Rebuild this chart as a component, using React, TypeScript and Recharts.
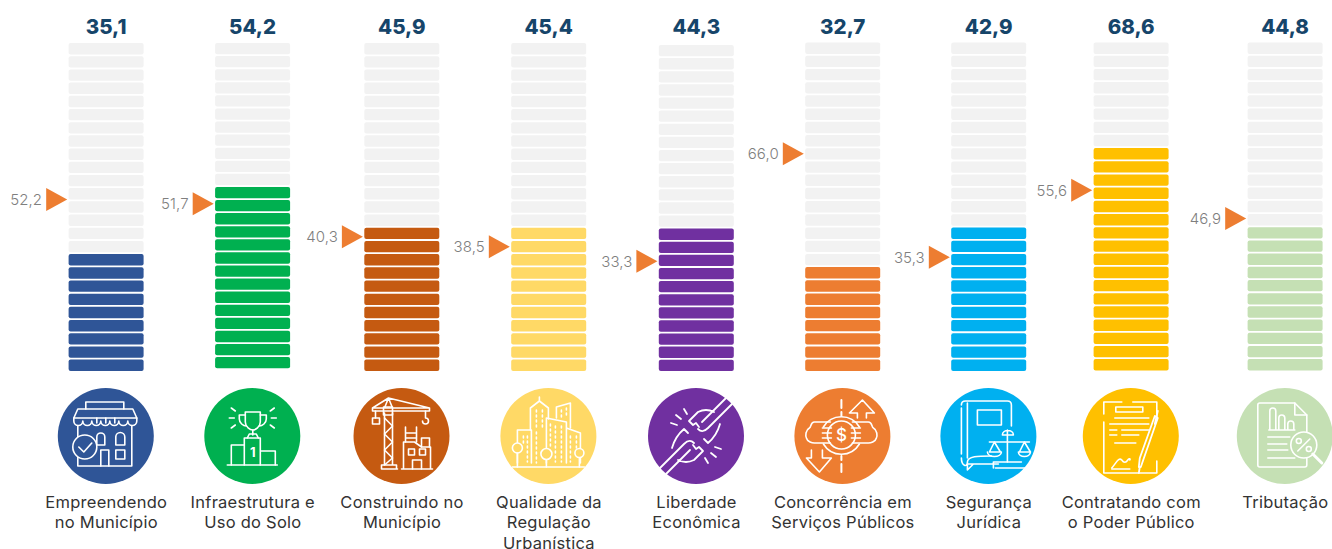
import React from 'react';
import { ComposedChart, Bar, Line, XAxis, YAxis, LabelList } from 'recharts';

const CATEGORIES = [
  ['Empreendendo', 'no Município'],
  ['Infraestrutura e', 'Uso do Solo'],
  ['Construindo no', 'Município'],
  ['Qualidade da', 'Regulação', 'Urbanística'],
  ['Liberdade', 'Econômica'],
  ['Concorrência em', 'Serviços Públicos'],
  ['Segurança', 'Jurídica'],
  ['Contratando com', 'o Poder Público'],
  ['Tributação'],
];
const SCORES = [35.1, 54.2, 45.9, 45.4, 44.3, 32.7, 42.9, 68.6, 44.8];
const REFERENCES = [52.2, 51.7, 40.3, 38.5, 33.3, 66.0, 35.3, 55.6, 46.9];
const FILLED_SEGMENTS = [9, 14, 11, 11, 11, 8, 11, 17, 11];
const COLORS = ['#2F5597', '#00B050', '#C55A11', '#FFD966', '#7030A0', '#ED7D31', '#00B0F0', '#FFC000', '#C5E0B4'];

const SEGMENT_COUNT = 25;
const SEGMENT_VALUE = 4;

// layout of the columns: the source picture is not evenly spaced
const COLUMN_X = [105.8, 252.3, 401.5, 548.4, 696, 842.4, 988.4, 1130.8, 1284.8];
const COLUMN_TOP = [43, 43, 43, 43, 45, 42.5, 42.5, 42.5, 42.5];
const COLUMN_BOTTOM = [372.8, 370.1, 372.8, 372.8, 372.8, 372.8, 372.8, 372.3, 372.3];
const MARKER_NUDGE = [-1, 1.7, -3, 1, -1.5, -1, 1, 1, 0.5];

const WIDTH = 1332;
const HEIGHT = 549;
const PLOT_TOP = 42.5;
const PLOT_BOTTOM = 372.8;
const GAP = 1.8;
const FONT = 'Inter, "Open Sans", sans-serif';

const segmentKeys = Array.from({ length: SEGMENT_COUNT }, (_, i) => `s${i}`);

const rows = SCORES.map((score, i) => {
  const row: Record<string, number | string> = {
    x: COLUMN_X[i],
    col: i,
    reference: REFERENCES[i],
    scoreText: score.toFixed(1).replace('.', ','),
  };
  segmentKeys.forEach(k => { row[k] = SEGMENT_VALUE; });
  return row;
});

function Segment(props: any, segment: number) {
  const col = props.payload.col;
  // squeeze each column into its own top and bottom
  const k = (COLUMN_BOTTOM[col] - COLUMN_TOP[col]) / (PLOT_BOTTOM - PLOT_TOP);
  const y = COLUMN_BOTTOM[col] - (PLOT_BOTTOM - props.y) * k;
  const h = props.height * k - GAP;
  const fill = segment < FILLED_SEGMENTS[col] ? COLORS[col] : '#F2F2F2';
  return <rect x={props.x} y={y} width={props.width} height={h} rx={2} fill={fill} />;
}

function Marker(props: any) {
  const { cx, cy, index } = props;
  const y = cy + MARKER_NUDGE[index];
  const tip = cx - 38.6;
  return (
    <g key={`marker-${index}`}>
      <polygon points={`${tip},${y} ${tip - 21},${y - 11.5} ${tip - 21},${y + 11.5}`} fill="#ED7D31" />
      <text
        x={tip - 25}
        y={y + 5.5}
        textAnchor="end"
        fontFamily={FONT}
        fontSize={15}
        fontWeight={300}
        letterSpacing={0.1}
        fill="#7F7F7F"
      >
        {REFERENCES[index].toFixed(1).replace('.', ',')}
      </text>
    </g>
  );
}

const line = { fill: 'none', stroke: '#fff', strokeWidth: 1.6, strokeLinecap: 'round', strokeLinejoin: 'round' } as const;

const CHAIN_HALF =
  'M30,-38L6,-14M36,-32L12,-8C8,-4 5,-4 2,-7M-7,-15L2,-24C8,-27 14,-26 18,-24M-7,-15L-3,-11L0,-13L3,-9' +
  'M8,3L12,7C18,2 22,-5 24,-12M-25,-13L-19,-11M-20,-21L-15,-17M-12,-27L-9,-22';

function Icon({ index, color }: { index: number; color: string }) {
  switch (index) {
    case 0:
      return (
        <g {...line}>
          <path d="M-20,-27V-34H18V-27" />
          <path d="M-28,-27H27L31,-18H-32Z" />
          <path d="M-32,-18v3a4.5,4.5 0 0 0 9,0a4.5,4.5 0 0 0 9,0a4.5,4.5 0 0 0 9,0a4.5,4.5 0 0 0 9,0a4.5,4.5 0 0 0 9,0a4.5,4.5 0 0 0 9,0a4.5,4.5 0 0 0 9,0v-3" />
          <path d="M-28,-10V30H26V-10" />
          <path d="M-9,-18V-13M0,-18V-13M9,-18V-13" />
          <path d="M-9,9V1a4,4 0 0 1 8,0V9ZM10,9V1a4.5,4.5 0 0 1 9,0V9Z" />
          <path d="M-5,30V14H3V30" />
          <rect x={10} y={14} width={9} height={9} />
          <circle cx={-21} cy={11} r={12} fill={color} />
          <path d="M-27,11L-22,16L-14,7" />
        </g>
      );
    case 1:
      return (
        <g {...line}>
          <path d="M-25,29H25" />
          <path d="M-8,29V2H8V29M-8,9H-21V29M8,15H23V29" />
          <path d="M-7,-24H8V-14C8,-9 3,-6 0.5,-6C-2,-6 -7,-9 -7,-14Z" />
          <path d="M-7,-21H-13V-17C-13,-13 -9,-10 -6,-10M8,-21H14V-17C14,-13 10,-10 7,-10" />
          <path d="M0.5,-6V-1M-5,2L-3,-2H4L6,2" />
          <path d="M-21,-28L-17,-25M22,-28L18,-25M-23,-18H-18M24,-18H19M-21,-8L-17,-11M22,-8L18,-11" />
          <text x={0.5} y={21} textAnchor="middle" fontFamily={FONT} fontSize={13} fontWeight={700} fill="#fff" stroke="none">1</text>
        </g>
      );
    case 2:
      return (
        <g {...line}>
          <path d="M-17,-23V29M-9,-23V29M-20,33V29H-5V33ZM-20,33H-4" />
          <path d="M-17,-18L-9,-10L-17,-2L-9,6L-17,14L-9,22L-17,29" />
          <path d="M-29,-28H28V-25H-29ZM-17,-28L-13,-38L28,-28M-9,-28L-13,-38L-29,-28" />
          <rect x={-18} y={-29} width={9} height={8} />
          <rect x={-29} y={-18} width={7} height={6} />
          <path d="M-26,-25V-18M24,-25V-18M24,-18a3,3 0 1 1 -3,3" />
          <path d="M0,33H31M2,33V6H13L20,11H29V33" />
          <path d="M11,33V24H20V33" />
          <rect x={7} y={13} width={6} height={6} />
          <rect x={18} y={13} width={6} height={6} />
          <path d="M4,6V-9M15,6V-9M4,-3H15M4,2H15M20,11V2H28V11" />
        </g>
      );
    case 3:
      return (
        <g {...line}>
          <path d="M-36,31H36" />
          <path d="M-18,-6V-28L-9,-35L0,-28V-17M-9,-39V-35" />
          <path d="M8,-18V-29L22,-33V-8" />
          <path d="M-2,27V-18L18,-14V27M18,-8L32,-3V27" />
          <path d="M-31,27V-6H-17V27" />
          <circle cx={-31} cy={12} r={5} fill={color} />
          <circle cx={-2} cy={18} r={5.5} fill={color} />
          <circle cx={31} cy={17} r={4.5} fill={color} />
          <path d="M-31,17V31M-2,24V31M31,22V31" />
          <g strokeDasharray="2 3">
            <path d="M-12,-26V-8M-6,-26V-8M2,-12V10M7,-10V26M13,-10V26M13,-26V-18M18,-28V-18M22,0V26M28,0V12M-25,0V8M-21,0V26M-12,-4V27" />
          </g>
        </g>
      );
    case 4:
      return (
        <g {...line} strokeWidth={1.8}>
          <path d={CHAIN_HALF} />
          <path d={CHAIN_HALF} transform="rotate(180)" />
        </g>
      );
    case 5:
      return (
        <g {...line}>
          <path d="M-1,-36V-28M-1,-24V-20M-1,28V36M-1,20V24" strokeWidth={2} />
          <circle cx={-1} cy={-1} r={14} />
          <path d="M-19,-9A21,21 0 0 1 17,-9M-19,8A21,21 0 0 0 17,8" />
          <path d="M15,-18V-23H7L20,-36L32,-23H24V-18" />
          <path d="M-31,14V22H-36L-23,36L-11,22H-20V14" />
          <path d="M-12,-14H-28C-32,-14 -31,-9 -33,-8C-37,-6 -37,0 -36,2C-35,6 -30,7 -28,7H-12" />
          <path d="M-20,-8H-11M-20,-3H-11M-20,2H-11" />
          <path d="M10,-14H26C30,-14 29,-9 31,-8C35,-6 35,0 34,2C33,6 28,7 26,7H10" />
          <path d="M18,-8H9M18,-3H9M18,2H9" />
          <text x={-1} y={5} textAnchor="middle" fontFamily={FONT} fontSize={17} fontWeight={500} fill="#fff" stroke="none">$</text>
        </g>
      );
    case 6:
      return (
        <g {...line}>
          <path d="M-27,-28V18M-27,-31C-27,-34 -25,-35 -23,-35H19C22,-35 23,-33 23,-31V-10" />
          <path d="M-21,-33V22" />
          <rect x={-11} y={-26} width={24} height={15} />
          <path d="M-27,22C-27,30 -21,32 -21,26C-21,20 -10,20 3,20M-21,26V34L-15,28H3M-21,28H10" />
          <path d="M19,-6V26M14,-1C14,-7 25,-7 25,-1ZM1,6H41" />
          <path d="M6,6L1,16H12ZM36,6L31,16H42Z" />
          <path d="M-1,16C-1,22 13,22 13,16M30,16C30,22 42,22 42,16" />
          <path d="M5,26H33M7,32H38M5,26V32" />
        </g>
      );
    case 7:
      return (
        <g {...line}>
          <path d="M-27,-22V-34H-9M2,-34H26V-18M-27,-14V37H26V25" />
          <rect x={-15} y={-29} width={27} height={5} />
          <path d="M-16,-18H18M-21,-12H18M-21,-6H-14M-9,-6H18M-21,-1H-14M-9,-1H8M-16,7H5" />
          <path d="M27,-18L10,31L8,31L9,22L24,-20ZM27,-25L24,-12M9,31L8,37" strokeWidth={1.8} />
          <path d="M-19,32C-14,26 -12,21 -9,24C-7,27 -5,27 -3,24C-2,22 0,23 -1,24" />
          <path d="M-19,33H-1" />
        </g>
      );
    default:
      return (
        <g {...line}>
          <path d="M10,-33H-25Q-27,-33 -27,-31V29Q-27,31 -25,31H20Q22,31 22,29V-21Z" />
          <path d="M10,-33V-21H22" />
          <path d="M-15,-6V-25a3,3 0 0 1 6,0V-6M-6,-6V-18a3,3 0 0 1 6,0V-6M3,-6V-12a3,3 0 0 1 6,0V-6M-16,-6H10" />
          <path d="M-17,1H5M-17,8H2M-17,14H3M-17,22H10" />
          <circle cx={19} cy={9} r={13} fill={color} />
          <path d="M28,18L37,27" strokeWidth={3} />
          <path d="M13,15L25,3" />
          <circle cx={14} cy={5} r={2.5} />
          <circle cx={24} cy={13} r={2.5} />
        </g>
      );
  }
}

function CategoryTick(props: any) {
  const { x, index } = props;
  const color = COLORS[index];
  return (
    <g>
      <circle cx={x} cy={436} r={48} fill={color} />
      <g transform={`translate(${x} 436)`}>
        <Icon index={index} color={color} />
      </g>
      {CATEGORIES[index].map((text, i) => (
        <text
          key={text}
          x={x + 0.5}
          y={507.5 + i * 20.7}
          textAnchor="middle"
          fontFamily={FONT}
          fontSize={16.5}
          letterSpacing={0.25}
          fill="#333333"
        >
          {text}
        </text>
      ))}
    </g>
  );
}

export default function App() {
  return (
    <div style={{ position: 'absolute', left: 0, top: 0, width: WIDTH, height: HEIGHT, overflow: 'hidden' }}>
      <ComposedChart
        width={WIDTH}
        height={HEIGHT}
        data={rows}
        margin={{ top: PLOT_TOP, right: 0, bottom: 0, left: 0 }}
        barGap={0}
      >
        <XAxis
          dataKey="x"
          type="number"
          scale="linear"
          domain={[0, WIDTH]}
          ticks={COLUMN_X}
          interval={0}
          height={HEIGHT - PLOT_BOTTOM}
          axisLine={false}
          tickLine={false}
          tick={CategoryTick}
        />
        <YAxis hide domain={[0, SEGMENT_COUNT * SEGMENT_VALUE]} />
        {segmentKeys.map((key, i) => (
          <Bar
            key={key}
            dataKey={key}
            stackId="column"
            barSize={75}
            isAnimationActive={false}
            shape={(props: any) => Segment(props, i)}
          >
            {i === SEGMENT_COUNT - 1 && (
              <LabelList
                dataKey="scoreText"
                position="top"
                offset={9}
                fontFamily={FONT}
                fontSize={20.5}
                fontWeight={800}
                fill="#16456A"
              />
            )}
          </Bar>
        ))}
        <Line dataKey="reference" stroke="none" isAnimationActive={false} dot={Marker} activeDot={false} />
      </ComposedChart>
    </div>
  );
}
